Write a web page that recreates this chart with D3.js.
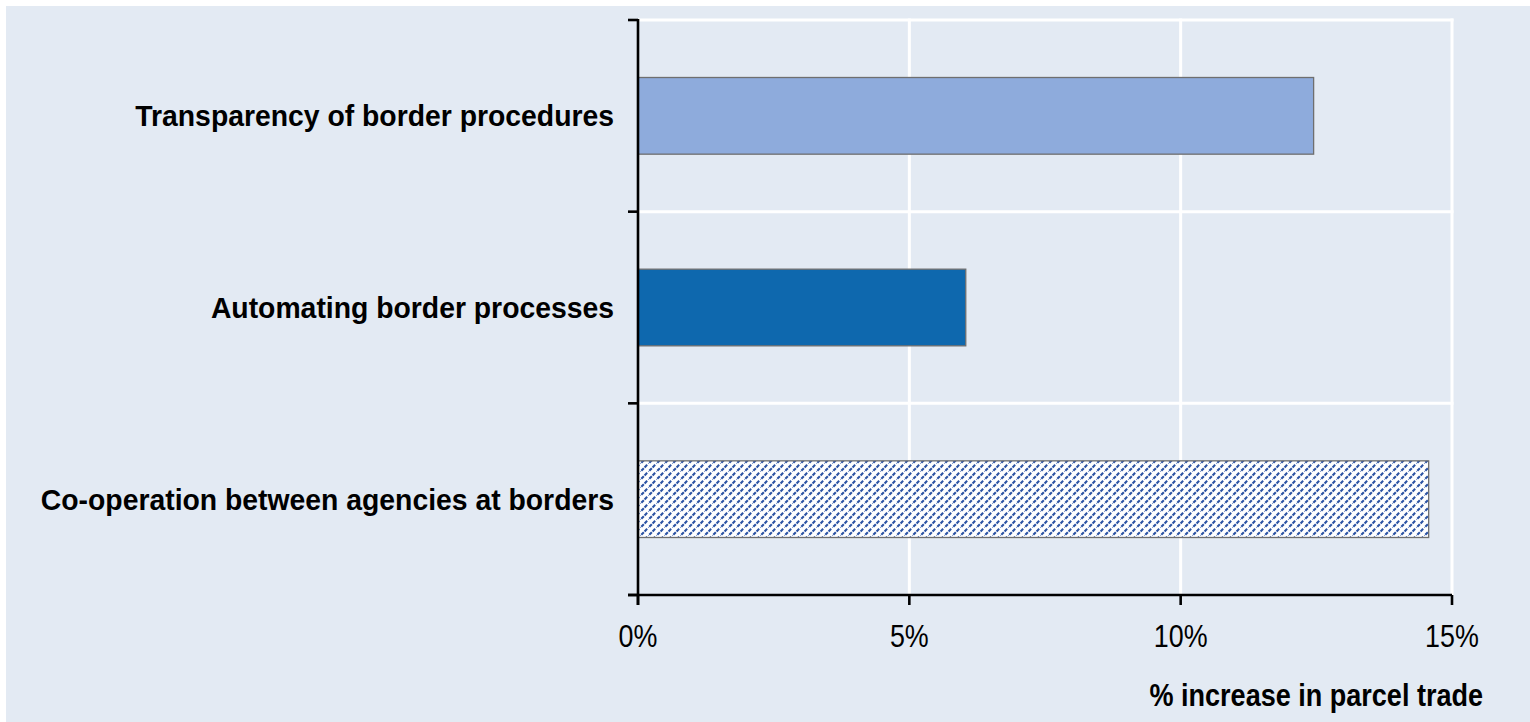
<!DOCTYPE html>
<html><head><meta charset="utf-8">
<script src="https://cdn.jsdelivr.net/npm/d3@7"></script>
<style>body{margin:0;background:#fff;}svg{display:block;}</style>
</head><body>
<svg id="c" width="1530" height="722"></svg>
<script>
const categories = ["Transparency of border procedures", "Automating border processes", "Co-operation between agencies at borders"];
const values = [12.45, 6.04, 14.57];
const fills = ["#8eabdc", "#0e68ae", "url(#hatch)"];
const xTicks = [0, 5, 10, 15];
const xTitle = "% increase in parcel trade";

const svg = d3.select("#c");
const W = 1530, H = 722;
const m = {left: 638, right: 1452, top: 20, bottom: 595};

const defs = svg.append("defs");
const pat = defs.append("pattern").attr("id", "hatch").attr("patternUnits", "userSpaceOnUse")
  .attr("width", 8).attr("height", 8);
pat.append("rect").attr("width", 8).attr("height", 8).attr("fill", "#fff");
pat.append("path").attr("d", "M-2,10 L10,-2").attr("stroke", "#2b52a3").attr("stroke-width", 2.1).attr("stroke-dasharray", "3.6,1.06");

svg.append("rect").attr("x", 6).attr("y", 6).attr("width", W - 6).attr("height", H - 6).attr("fill", "#e3eaf3");

const x = d3.scaleLinear().domain([0, 15]).range([m.left, m.right]);
const yGrid = d3.scaleBand().domain(categories).range([m.top, m.bottom]).padding(0);
const y = d3.scaleBand().domain(categories).range([m.top, m.bottom]).paddingInner(0.6).paddingOuter(0.3);

const font = "'Liberation Sans', Arial, sans-serif";

// gridlines
const g = svg.append("g");
g.selectAll(".vg").data(xTicks.filter(d => d > 0)).join("line")
  .attr("x1", d => x(d)).attr("x2", d => x(d)).attr("y1", m.top - 1.5).attr("y2", m.bottom)
  .attr("stroke", "#fff").attr("stroke-width", 3);
g.selectAll(".hg").data(categories).join("line")
  .attr("x1", m.left).attr("x2", m.right + 1.5)
  .attr("y1", d => yGrid(d)).attr("y2", d => yGrid(d))
  .attr("stroke", "#fff").attr("stroke-width", 3);

// bars
svg.selectAll(".bar").data(categories).join("rect")
  .attr("x", x(0)).attr("y", d => y(d))
  .attr("width", (d, i) => x(values[i]) - x(0)).attr("height", y.bandwidth())
  .attr("fill", (d, i) => fills[i]).attr("stroke", "#6f6f6f").attr("stroke-width", 1.3);

// y axis
const yAxisG = svg.append("g");
yAxisG.append("line").attr("x1", m.left).attr("x2", m.left).attr("y1", m.top - 1).attr("y2", m.bottom + 10)
  .attr("stroke", "#000").attr("stroke-width", 2.6);
const yTickPos = categories.map(d => yGrid(d)).concat([m.bottom]);
yAxisG.selectAll(".yt").data(yTickPos).join("line")
  .attr("x1", m.left - 10).attr("x2", m.left).attr("y1", d => d).attr("y2", d => d)
  .attr("stroke", "#000").attr("stroke-width", 2.6);
yAxisG.selectAll(".yl").data(categories).join("text")
  .attr("transform", d => `translate(614,${y(d) + y.bandwidth() / 2}) scale(0.945,1)`)
  .attr("dy", "0.35em")
  .attr("text-anchor", "end").attr("font-family", font).attr("font-weight", "bold")
  .attr("font-size", 30).attr("fill", "#000").text(d => d);

// x axis
const xAxisG = svg.append("g").attr("transform", `translate(0,${m.bottom})`);
xAxisG.append("line").attr("x1", m.left - 10).attr("x2", m.right).attr("stroke", "#000").attr("stroke-width", 2.6);
xAxisG.selectAll(".xt").data(xTicks).join("line")
  .attr("x1", d => x(d)).attr("x2", d => x(d)).attr("y1", 0).attr("y2", 10)
  .attr("stroke", "#000").attr("stroke-width", 2.6);
xAxisG.selectAll(".xl").data(xTicks).join("text")
  .attr("transform", d => `translate(${x(d)},52) scale(0.84,1)`)
  .attr("text-anchor", "middle")
  .attr("font-family", font).attr("font-size", 32).attr("fill", "#000").text(d => d + "%");

svg.append("text").attr("transform", "translate(1483,706) scale(0.845,1)").attr("text-anchor", "end")
  .attr("font-family", font).attr("font-weight", "bold").attr("font-size", 32).attr("fill", "#000").text(xTitle);
</script>
</body></html>
